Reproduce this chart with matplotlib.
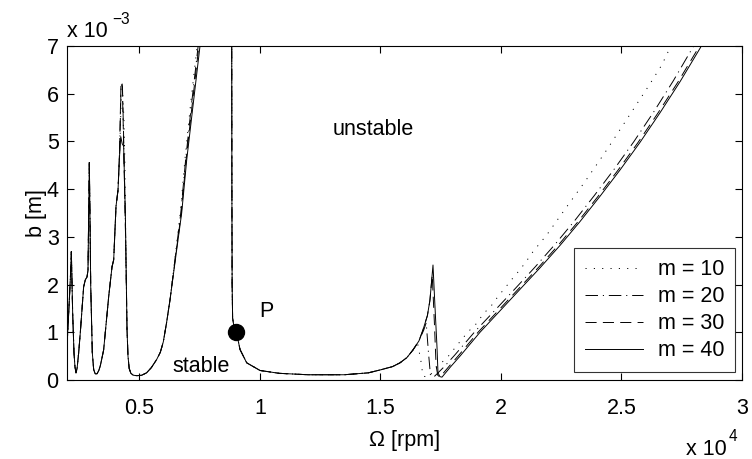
import matplotlib
matplotlib.use("Agg")
import matplotlib.pyplot as plt
import numpy as np

plt.rcParams['font.family'] = ['Liberation Sans', 'DejaVu Sans']
plt.rcParams['lines.scale_dashes'] = False

# ---- data (omega in rpm, b in mm) ----
# common: lobes 1-2 and rising side of lobe 3
omega_A = [2000, 2070, 2137, 2180, 2235, 2290, 2330, 2373, 2420, 2484, 2553, 2690, 2760, 2830,
           2871, 2926, 2954, 2983, 3050, 3106, 3170, 3245, 3320, 3383, 3520, 3730, 3867, 3937,
           4033, 4116]
b_A = [0.70, 1.40, 2.10, 2.69, 1.40, 0.57, 0.28, 0.15, 0.25, 0.57, 1.00, 1.95, 2.10, 2.16,
       2.30, 4.56, 3.40, 2.00, 0.57, 0.22, 0.13, 0.13, 0.20, 0.30, 0.63, 1.75, 2.37, 2.52,
       3.64, 3.98]

# lobe 3 peak (differs per m)
omega_B40 = [4180, 4230, 4290, 4350, 4420]
b_B40 = [4.70, 5.10, 4.95, 4.90, 3.50]
omega_B30 = [4180, 4240, 4290, 4330, 4380, 4430]
b_B30 = [4.80, 6.25, 6.20, 5.40, 4.20, 3.00]
omega_B20 = [4180, 4245, 4300, 4340, 4390, 4435]
b_B20 = [4.75, 6.20, 6.15, 5.30, 4.10, 2.90]
omega_B10 = [4180, 4250, 4310, 4360, 4400, 4440]
b_B10 = [4.70, 5.90, 6.00, 5.50, 4.60, 2.80]

# common: lobe 3 descent, valley, lower lobe 4
omega_C = [4490, 4530, 4580, 4650, 4750, 4900, 5100, 5300, 5500, 5720, 5870, 5995, 6130, 6273]
b_C = [1.05, 0.50, 0.24, 0.14, 0.10, 0.09, 0.10, 0.15, 0.26, 0.43, 0.58, 0.80, 1.20, 1.68]

# upper lobe 4 (slightly shifted per m)
b_D = [2.73, 3.50, 4.61, 5.80, 7.00, 8.00]
omega_D40 = [6550, 6757, 6965, 7239, 7517, 7750]
omega_D30 = [6540, 6740, 6940, 7200, 7470, 7700]
omega_D20 = [6530, 6720, 6920, 7170, 7440, 7680]
omega_D10 = [6520, 6700, 6890, 7130, 7400, 7640]

# common: steep branch through P and the wide stable pocket
omega_E = [8820, 8833, 8840, 8850, 8870, 8930, 9030, 9176, 9454, 10006, 10800, 12000, 13500,
           14500, 14983, 15500, 15813, 16100, 16352]
b_E = [8.0, 7.0, 4.0, 2.0, 1.30, 1.10, 1.00, 0.64, 0.36, 0.20, 0.14, 0.11, 0.11,
       0.15, 0.21, 0.28, 0.36, 0.47, 0.63]

# right part (differs per m)
omega_F40 = [16600, 16767, 16950, 17057, 17182, 17265, 17348, 17389, 17470, 17555, 17900, 18302,
             19131, 19961, 20790, 21620, 22450, 23279, 24109, 24938, 25768, 26598, 27427,
             28257, 28700]
b_F40 = [0.82, 1.05, 1.35, 1.68, 2.41, 1.53, 0.69, 0.15, 0.07, 0.06, 0.27, 0.50,
         1.00, 1.45, 1.90, 2.35, 2.82, 3.32, 3.85, 4.40, 4.98, 5.60, 6.25,
         6.95, 7.35]
omega_F30 = [16600, 16767, 16950, 17050, 17150, 17240, 17310, 17380, 17470, 17820, 18220,
             19050, 19880, 20710, 21540, 22370, 23200, 24030, 24860, 25690, 26520, 27350,
             28180, 28600]
b_F30 = [0.82, 1.05, 1.35, 1.65, 2.20, 1.20, 0.30, 0.10, 0.06, 0.27, 0.50,
         1.00, 1.45, 1.90, 2.35, 2.82, 3.32, 3.85, 4.40, 4.98, 5.60, 6.25,
         6.95, 7.35]
omega_F20 = [16600, 16800, 16900, 16990, 17080, 17250, 17650, 18080, 18930, 19770, 20600,
             21420, 22240, 23060, 23880, 24700, 25520, 26340, 27150, 27960, 28400]
b_F20 = [0.82, 1.05, 1.20, 0.60, 0.08, 0.08, 0.28, 0.52, 1.02, 1.47, 1.92, 2.37, 2.84,
         3.34, 3.87, 4.42, 5.00, 5.62, 6.27, 6.97, 7.35]
omega_F10 = [16550, 16680, 16767, 17000, 17300, 17804, 18358, 18638, 19000, 19260, 19620, 19880,
             20170, 20500, 20790, 21070, 21330, 21900, 22730, 23490, 24320, 25100, 25630, 26150,
             26670, 27050, 27300]
b_F10 = [0.75, 0.40, 0.08, 0.06, 0.25, 0.49, 0.84, 1.01, 1.19, 1.38, 1.57, 1.75,
         1.93, 2.14, 2.31, 2.50, 2.69, 3.04, 3.63, 4.16, 4.77, 5.37, 5.78, 6.18,
         6.60, 7.00, 7.30]

P_omega, P_b = 9030, 1.00
labels = ['m = 10', 'm = 20', 'm = 30', 'm = 40']

series = {
    'm = 10': (omega_A + omega_B10 + omega_C + omega_D10 + omega_E + omega_F10,
               b_A + b_B10 + b_C + b_D + b_E + b_F10),
    'm = 20': (omega_A + omega_B20 + omega_C + omega_D20 + omega_E + omega_F20,
               b_A + b_B20 + b_C + b_D + b_E + b_F20),
    'm = 30': (omega_A + omega_B30 + omega_C + omega_D30 + omega_E + omega_F30,
               b_A + b_B30 + b_C + b_D + b_E + b_F30),
    'm = 40': (omega_A + omega_B40 + omega_C + omega_D40 + omega_E + omega_F40,
               b_A + b_B40 + b_C + b_D + b_E + b_F40),
}
styles = {
    'm = 10': (0, (0.8, 5.2)),
    'm = 20': (0, (9, 3.5, 0.8, 3.5)),
    'm = 30': (0, (8, 4.5)),
    'm = 40': '-',
}

FS = 15.5
fig = plt.figure(figsize=(7.52, 4.59), dpi=100)
ax = fig.add_axes([67/752, 1-380/459, 675/752, 334/459])

for lab in labels:
    om, bb = series[lab]
    ax.plot(np.array(om)/1e4, np.array(bb), color='k', lw=0.7, linestyle=styles[lab], label=lab)

ax.plot(P_omega/1e4, P_b, 'o', color='k', ms=11.5)

ax.set_xlim(0.2, 3.0)
ax.set_ylim(0, 7)
ax.set_xticks([0.5, 1, 1.5, 2, 2.5, 3])
ax.set_xticklabels(['0.5', '1', '1.5', '2', '2.5', '3'])
ax.set_yticks(range(8))
ax.tick_params(direction='in', length=5, width=0.8, top=True, right=True, labelsize=FS)
ax.tick_params(axis='x', pad=13)
ax.tick_params(axis='y', pad=6)
for s in ax.spines.values():
    s.set_linewidth(0.8)

ax.set_xlabel('Ω [rpm]', fontsize=FS, labelpad=8)
ax.set_ylabel('b [m]', fontsize=FS, labelpad=0)

ax.text(1.47, 5.26, 'unstable', fontsize=FS, ha='center', va='center')
ax.text(0.755, 0.28, 'stable', fontsize=FS, ha='center', va='center')
ax.text(1.025, 1.43, 'P', fontsize=FS, ha='center', va='center')

fig.text(67/752, 1-37/459, 'x 10', fontsize=FS, ha='left', va='baseline')
fig.text(112/752, 1-24/459, '−3', fontsize=FS*0.72, ha='left', va='baseline')
fig.text(686/752, 1-455/459, 'x 10', fontsize=FS, ha='left', va='baseline')
fig.text(729/752, 1-441/459, '4', fontsize=FS*0.72, ha='left', va='baseline')

leg = ax.legend(loc='lower right', bbox_to_anchor=(0.990, 0.024), borderaxespad=0,
                fontsize=FS, frameon=True, fancybox=False, edgecolor='k',
                handlelength=2.7, handletextpad=0.7, labelspacing=0.28, borderpad=0.5)
leg.get_frame().set_linewidth(0.8)

fig.savefig('out.png', dpi=100)
